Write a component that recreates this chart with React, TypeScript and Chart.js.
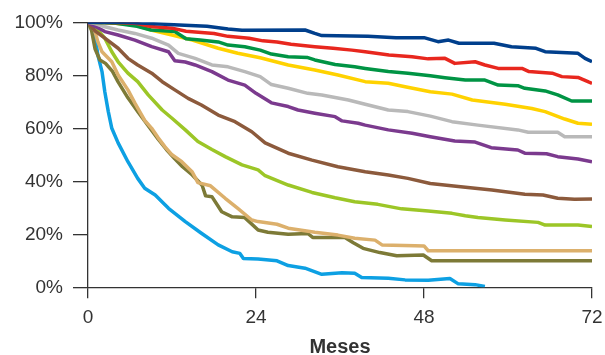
import { useEffect, useRef } from "react";
import { Chart, registerables } from "chart.js";

Chart.register(...registerables);

// Tick labels / axes
const xTicks = [0, 24, 48, 72];
const yTicks = [0, 20, 40, 60, 80, 100];
const xTitle = "Meses";

// Series: [month, % survival]
const azulOscuro = [[0,100],[5,100],[9,99.5],[13,99],[17,98.5],[20,97.5],[22,97],[31,97.1],[32.4,95.8],[33.4,95],[40,94.7],[44,94.2],[48,94.2],[50,92.7],[51.5,93.3],[53,92.1],[58,92.1],[60.5,90.8],[64,90.2],[65.3,88.9],[70,88.3],[71,86.4],[72,85.1]];
const rojo = [[0,100],[5,99.8],[7,99.5],[9,98.4],[12,97.8],[14,96.6],[18,95.8],[20,94.7],[23,94],[25,93],[27,92.6],[29,91.7],[32.4,90.8],[35,90.2],[37.7,89.5],[39.6,88.9],[43,87.7],[46.3,87],[48.6,86.2],[51,86.4],[52.4,84.5],[55.3,85.1],[56.7,83.9],[58.6,82.6],[62,82.6],[63,81.4],[66.3,80.8],[67.7,79.5],[70,79.2],[71.5,77.5],[72,77]];
const verde = [[0,100],[4,99.6],[7,98.5],[9,97.1],[12.4,96.5],[14,93.8],[16,93.3],[18.6,92.6],[20,91.4],[22.4,90.8],[24.6,89.5],[26.2,88],[28.6,87],[31.4,86.7],[32.4,85.8],[35.3,84.1],[38.1,83.2],[39.6,82.6],[42.9,81.4],[45.7,80.8],[48.9,79.8],[51,79.1],[53.9,78.2],[56.7,78.2],[58.6,76.3],[61.4,76.1],[62.4,75.1],[65.3,74.1],[67.1,72.6],[69.1,70.3],[72,70.3]];
const amarillo = [[0,100],[2.4,100],[6.7,99],[9,97.1],[12,95.2],[14.9,93.3],[18.6,90.2],[21.4,88.3],[24.6,86.6],[28.6,83.9],[32.4,82],[35.7,80.1],[39.6,77.6],[42.9,77],[45.3,75.7],[48.9,73.8],[52,72.9],[54.9,70.7],[59.6,69.1],[63.4,67.5],[65.3,66.3],[68.1,63.5],[70,61.9],[72,61.5]];
const gris = [[0,100],[1,99.5],[2.4,98.3],[4.3,97.1],[6.7,95.8],[9.1,94],[11.5,91.4],[12.9,88.3],[15.3,86.4],[17.7,83.9],[20,83.2],[22.4,81.4],[24.6,79.5],[26.2,76.5],[28.6,75.1],[31.4,73.2],[33.4,72.6],[37.2,70.7],[39.6,69.1],[42.9,66.9],[45.7,66.3],[48.9,64.6],[52,62.5],[55.7,61.2],[61.4,59.4],[62.9,58.5],[67.1,58.5],[68.1,56.8],[72,56.8]];
const morado = [[0,100],[1,98.5],[2.4,96.5],[4.3,95.2],[6.7,93.3],[9.1,90.8],[11.5,88.9],[12.4,85.5],[13.9,85],[15.3,83.9],[17.7,81.4],[20,78.2],[22.4,76.3],[24,73.2],[26.2,69.6],[28.6,68.2],[30,66.9],[32.4,65.7],[35.3,64.4],[36.3,62.8],[38.6,61.9],[39.6,61.2],[42.9,59.4],[46.3,58.1],[48.9,56.8],[52.4,55.2],[55.3,54.8],[57.6,52.7],[61.4,51.8],[62.4,50.6],[65.5,50.4],[67.1,49.3],[70,48.4],[72,47.4]];
const marron = [[0,100],[1,96.8],[2.4,94],[4.3,90.2],[5.7,86.4],[7.1,83.9],[9.1,80.8],[10.6,77.6],[12.4,74.5],[14.3,71.3],[16.2,68.8],[18.6,65],[21,62.5],[23.4,58.7],[25.3,54.5],[28.6,50.6],[32,48],[35.7,45.5],[39.6,43.6],[42.9,42.4],[45.7,41.1],[48.9,39.2],[52.9,38],[57.7,36.7],[62.4,35.1],[65,34.8],[67.1,33.6],[69.5,33.2],[72,33.3]];
const verdeClaro = [[0,100],[1.4,97.1],[2.4,94],[3.4,88.9],[4.3,85.1],[5.7,80.8],[7.1,77.6],[8.6,72.6],[10.6,66.9],[12,63.8],[13.9,59.4],[15.7,55],[17.7,52],[19.6,49.3],[22,46.2],[24.3,44.3],[25.3,42.1],[28.6,38.6],[32,35.8],[35.3,33.8],[38.1,32.3],[41.4,31.3],[44.8,29.6],[48.6,28.8],[52,27.9],[53.9,27],[55.7,26.3],[59.6,25.4],[64.3,24.5],[65.3,23.5],[70,23.5],[72,22.9]];
const arena = [[0,100],[0.6,99],[1,96.5],[1.4,92.7],[2,88.9],[3.4,85.1],[4.3,80.1],[5.7,74.5],[6.7,69.5],[8.1,63],[9.1,60],[10,56.5],[11,53],[12,50],[13.4,47.4],[14.9,43.5],[15.7,39.5],[17.5,38.3],[19.6,33.6],[21.4,29.8],[23.4,25.4],[24.3,24.8],[27,23.8],[28.6,22.3],[32.4,20.8],[35.7,19.7],[38.1,18.5],[41,17.8],[42,16],[46.7,15.7],[48,15.6],[48.6,13.8],[72,13.8]];
const oliva = [[0,100],[0.5,97],[1,90],[1.7,85.8],[2.5,84.5],[3.5,81.5],[4.3,77.5],[5.7,71.5],[7.2,66],[8.6,61],[10,56],[11.2,52],[12.4,48.5],[13.5,45.5],[14.9,42.4],[16.3,38.5],[16.8,34.5],[17.7,34.2],[19.1,28.5],[20.6,26.6],[22.4,26.3],[24.3,21.6],[25.7,20.8],[28.6,20],[31.4,20.3],[32.1,18.8],[36.7,18.8],[37.9,16.8],[39.3,14.7],[41.7,13.1],[44.1,11.9],[47.9,12.2],[49.1,10],[72,10]];
const celeste = [[0,100],[0.5,100],[1,95.2],[1.4,87.7],[2,81.4],[2.4,73.8],[2.9,66.3],[3.4,60],[4.3,54.5],[5.7,47.4],[7.1,41.1],[8.1,37.4],[9.6,34.8],[11.5,29.8],[13.9,24.8],[16.2,20.4],[18.6,16],[20.6,13.4],[21.7,12.8],[22.2,10.9],[24.3,10.7],[27,10],[28.6,8.2],[31,7.2],[33.4,4.9],[36.3,5.5],[38.1,5.3],[39.1,3.7],[42.9,3.4],[45.3,2.8],[48.6,2.7],[51.7,3.3],[52.9,1.3],[55.3,1],[56.7,0.3]];

const seriesList = [
  { name: "azulOscuro", data: azulOscuro, color: "#003f8c" },
  { name: "rojo", data: rojo, color: "#e8271e" },
  { name: "verde", data: verde, color: "#009444" },
  { name: "amarillo", data: amarillo, color: "#ffd200" },
  { name: "gris", data: gris, color: "#b9b9b9" },
  { name: "morado", data: morado, color: "#7b3a8e" },
  { name: "marron", data: marron, color: "#8c5a3c" },
  { name: "verdeClaro", data: verdeClaro, color: "#9cc627" },
  { name: "arena", data: arena, color: "#dcb06c" },
  { name: "oliva", data: oliva, color: "#7d7a37" },
  { name: "celeste", data: celeste, color: "#0da0e3" },
];

const textColor = "#333333";
const axisColor = "#333333";
const fontFamily = "'Liberation Sans', Arial, Helvetica, sans-serif";

export default function App() {
  const ref = useRef<HTMLCanvasElement | null>(null);

  useEffect(() => {
    if (!ref.current) return;
    const chart = new Chart(ref.current, {
      type: "line",
      data: {
        datasets: seriesList.map((s) => ({
          label: s.name,
          data: s.data.map(([x, y]) => ({ x, y })),
          borderColor: s.color,
          backgroundColor: s.color,
          borderWidth: 3.5,
          pointRadius: 0,
          tension: 0,
          fill: false,
          borderJoinStyle: "round" as const,
        })),
      },
      options: {
        animation: false,
        responsive: false,
        maintainAspectRatio: false,
        layout: { padding: { left: 0, right: 13, top: 22.3, bottom: 0 } },
        plugins: { legend: { display: false }, tooltip: { enabled: false } },
        scales: {
          x: {
            type: "linear",
            min: 0,
            max: 72,
            afterBuildTicks: (s: any) => {
              s.ticks = xTicks.map((v) => ({ value: v }));
            },
            ticks: {
              color: textColor,
              font: { family: fontFamily, size: 19 },
              padding: 8,
              maxRotation: 0,
            },
            grid: {
              drawOnChartArea: false,
              drawTicks: true,
              tickLength: 11,
              color: axisColor,
              lineWidth: 1.3,
            },
            border: { display: true, color: axisColor, width: 1.3 },
            title: {
              display: true,
              text: xTitle,
              color: textColor,
              font: { family: fontFamily, size: 20, weight: "bold" },
              padding: { top: 0, bottom: -4 },
            },
            afterFit: (s: any) => {
              s.height = 67.7;
              s.paddingLeft = 0;
              s.paddingRight = 0;
            },
          },
          y: {
            min: 0,
            max: 100,
            afterBuildTicks: (s: any) => {
              s.ticks = yTicks.map((v) => ({ value: v }));
            },
            ticks: {
              color: textColor,
              font: { family: fontFamily, size: 19 },
              padding: 10,
              callback: (v: any) => v + "%",
            },
            grid: {
              drawOnChartArea: false,
              drawTicks: true,
              tickLength: 15,
              color: axisColor,
              lineWidth: 1.3,
            },
            border: { display: true, color: axisColor, width: 1.3 },
            afterFit: (s: any) => {
              s.width = 88;
              s.paddingTop = 0;
              s.paddingBottom = 0;
            },
          },
        },
      },
    });
    return () => chart.destroy();
  }, []);

  return (
    <div style={{ position: "fixed", left: 0, top: 0, width: 605, height: 355, background: "#fff" }}>
      <canvas ref={ref} width={605} height={355} style={{ width: 605, height: 355 }} />
    </div>
  );
}
